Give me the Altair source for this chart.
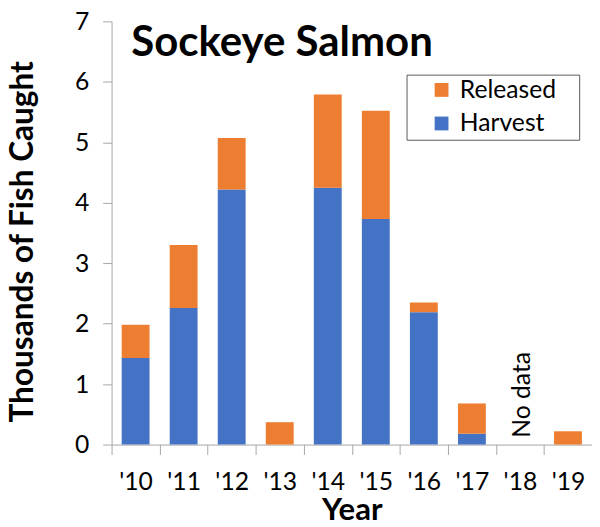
import altair as alt
import pandas as pd

years = ["'10", "'11", "'12", "'13", "'14", "'15", "'16", "'17", "'18", "'19"]
harvest = [1.43, 2.26, 4.22, 0.0, 4.25, 3.73, 2.19, 0.18, None, 0.0]
released = [0.55, 1.04, 0.85, 0.37, 1.54, 1.79, 0.16, 0.50, None, 0.22]
series = ["Released", "Harvest"]
colors = ["#ED7D31", "#4472C4"]
y_ticks = [0, 1, 2, 3, 4, 5, 6, 7]
title_text = "Sockeye Salmon"
note_year = "'18"
note_text = "No data"

rows = []
for yr, h, r in zip(years, harvest, released):
    if h is not None:
        rows.append({"year": yr, "series": "Harvest", "value": h, "order": 0})
    if r is not None:
        rows.append({"year": yr, "series": "Released", "value": r, "order": 1})
df = pd.DataFrame(rows)

FONT = "Lato"
AX = "#A6A6A6"

x_enc = alt.X(
    "year:N",
    scale=alt.Scale(domain=years, paddingInner=0, paddingOuter=0),
    axis=alt.Axis(
        title="Year", labelAngle=0, tickBand="extent", tickSize=10,
        labelPadding=16, labelFont=FONT, labelFontSize=25, labelColor="black",
        domainColor=AX, tickColor=AX, titleFont=FONT, titleFontSize=31.5,
        titleFontWeight="bold", titleColor="black", titleY=76,
        titleBaseline="alphabetic",
    ),
)
y_scale = alt.Scale(domain=[0, 7], nice=False)
y_axis = alt.Axis(
    title="Thousands of Fish Caught", values=y_ticks, format="d", tickSize=9,
    labelPadding=14, labelFont=FONT, labelFontSize=25, labelColor="black",
    domainColor=AX, tickColor=AX, titleFont=FONT, titleFontSize=32,
    titleFontWeight="bold", titleColor="black", titleX=-80, titleY=223,
    titleBaseline="alphabetic", titleAngle=270, titleAlign="center",
)

bars = alt.Chart(df).mark_bar(width={"band": 0.58}).encode(
    x=x_enc,
    y=alt.Y("value:Q", stack="zero", scale=y_scale, axis=y_axis),
    color=alt.Color(
        "series:N",
        scale=alt.Scale(domain=series, range=colors),
        legend=alt.Legend(
            title="\u00a0", titleOrient="right", titlePadding=20,
            titleFontSize=4,
            orient="none", legendX=299, legendY=54,
            direction="vertical", symbolType="square", symbolSize=196,
            symbolStrokeWidth=0, symbolOffset=20, labelOffset=6,
            labelFont=FONT, labelFontSize=25, labelColor="black",
            padding=3, rowPadding=8, strokeColor="#595959",
        ),
    ),
    order=alt.Order("order:Q", sort="ascending"),
)

note = alt.Chart(
    pd.DataFrame({"year": [note_year], "value": [0], "t": [note_text]})
).mark_text(
    angle=270, align="left", baseline="middle", dx=7, dy=2, font=FONT,
    fontSize=25, color="black",
).encode(
    x=alt.X("year:N", scale=alt.Scale(domain=years, paddingInner=0, paddingOuter=0)),
    y=alt.Y("value:Q", scale=y_scale),
    text="t:N",
)

title = alt.Chart(pd.DataFrame({"t": [title_text]})).mark_text(
    font=FONT, fontSize=42.5, fontWeight="bold", align="left",
    baseline="alphabetic", color="black",
).encode(x=alt.value(20), y=alt.value(35), text="t:N")

chart = alt.layer(bars, note, title).properties(
    width=487, height=429,
    padding={"left": 105, "top": 10, "right": 0, "bottom": 80},
    autosize=alt.AutoSizeParams(type="none"),
).configure_view(stroke=None).configure_axis(grid=False)

chart.save("out.html", embed_options={"renderer": "svg", "actions": False})
